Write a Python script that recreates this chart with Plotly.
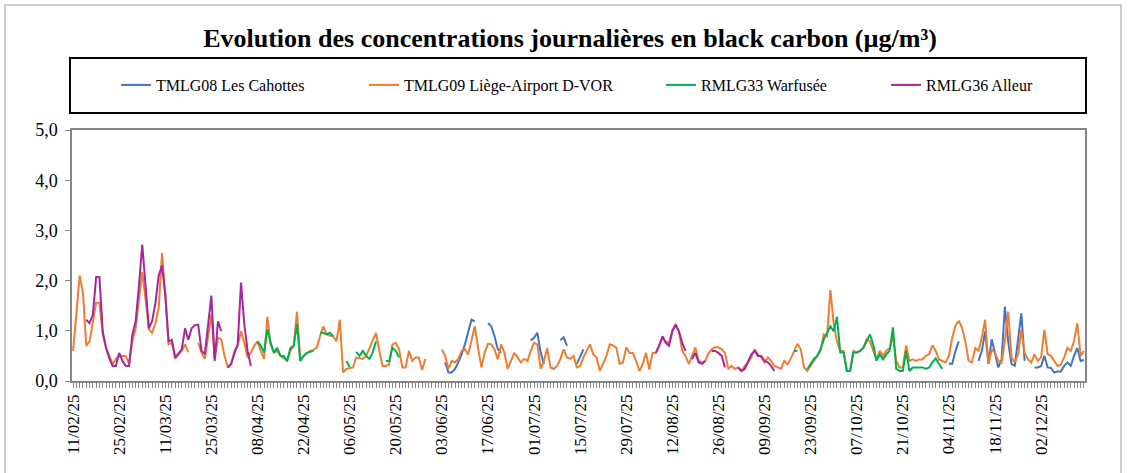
import plotly.graph_objects as go
import pandas as pd

# daily black carbon (µg/m³), each series as (first day, consecutive daily values)
dates = pd.date_range("2025-02-11", "2025-12-15", freq="D")

tmlg08 = [
    ("2025-06-04", [0.37, 0.17, 0.17, 0.24, 0.37, 0.53, 0.73, 0.99, 1.22, 1.19]),
    ("2025-06-17", [1.15, 1.09, 0.89, 0.63, 0.56]),
    ("2025-06-30", [0.81, 0.86, 0.96]),
    ("2025-07-03", [0.57, 0.34]),
    ("2025-07-09", [0.81, 0.87, 0.70]),
    ("2025-07-14", [0.34, 0.50, 0.63]),
    ("2025-11-04", [0.35, 0.34, 0.60, 0.79]),
    ("2025-11-13", [0.40, 0.60, 0.99, 0.34, 0.83, 0.57, 0.27, 0.43, 1.48, 0.79,
                    0.34, 0.30, 0.85, 1.35, 0.40]),
    ("2025-11-30", [0.27, 0.27, 0.30, 0.50, 0.27, 0.26, 0.17, 0.19, 0.19, 0.30,
                    0.37, 0.30, 0.50, 0.66, 0.40, 0.42]),
]

tmlg09 = [
    ("2025-02-11", [0.60, 1.35, 2.10, 1.75, 0.70, 0.79, 1.20, 1.56, 1.56, 0.93,
                    0.66, 0.48, 0.34, 0.44, 0.50, 0.50, 0.50, 0.34, 0.79, 1.05,
                    1.60, 2.17, 1.64, 1.03, 0.96, 1.15, 1.45, 2.55, 1.72, 0.73,
                    0.76, 0.44, 0.52, 0.60, 0.73, 0.57]),
    ("2025-03-21", [0.76, 0.57, 0.44, 0.85, 1.32, 0.44, 0.86, 0.83, 0.50, 0.27,
                    0.34, 0.60, 0.70, 0.99, 0.76, 0.47, 0.57, 0.70, 0.79, 0.60,
                    0.44, 1.28, 0.73, 0.56, 0.60, 0.50, 0.45, 0.40, 0.60, 0.70,
                    1.38, 0.40, 0.50, 0.56, 0.60, 0.62, 0.66, 0.89, 1.09, 0.93,
                    0.90, 0.89, 0.79, 1.22, 0.17, 0.24, 0.25, 0.27, 0.47, 0.45,
                    0.44, 0.50, 0.66, 0.80, 0.96, 0.60, 0.30, 0.30, 0.33, 0.73,
                    0.76, 0.63, 0.27, 0.27, 0.60, 0.40, 0.47, 0.47, 0.22, 0.44]),
    ("2025-06-03", [0.63, 0.50, 0.24, 0.40, 0.37, 0.44, 0.60, 0.63, 0.53, 0.80,
                    1.09, 0.66, 0.27, 0.56, 0.74, 0.73, 0.63, 0.43, 0.73, 0.56,
                    0.24, 0.40, 0.56, 0.47, 0.37, 0.44, 0.40, 0.60, 0.76, 0.73,
                    0.24, 0.40, 0.66, 0.27, 0.24, 0.30, 0.44, 0.63, 0.47, 0.44,
                    0.50, 0.27, 0.30, 0.47, 0.60, 0.73, 0.53, 0.47, 0.20, 0.35,
                    0.50, 0.73, 0.71, 0.66, 0.34, 0.37, 0.67, 0.56, 0.56, 0.40,
                    0.20, 0.33, 0.56, 0.23, 0.56, 0.56, 0.73, 0.86, 0.79, 0.76,
                    1.02, 1.12, 0.99, 0.60, 0.50, 0.34, 0.50, 0.67, 0.40, 0.37,
                    0.40, 0.55, 0.63, 0.67, 0.67, 0.63, 0.56, 0.24, 0.30, 0.24,
                    0.27, 0.20, 0.30, 0.37, 0.47, 0.63, 0.53, 0.47, 0.37, 0.47,
                    0.40, 0.30, 0.27, 0.24, 0.40, 0.33, 0.45, 0.60, 0.74, 0.63,
                    0.27, 0.20, 0.30, 0.40, 0.50, 0.60, 0.93, 0.89, 1.81, 1.15,
                    0.79, 0.60, 0.60, 0.20, 0.20, 0.60, 0.56, 0.60, 0.66, 0.83,
                    0.79, 0.60, 0.43, 0.60, 0.50, 0.60, 0.66, 0.89, 0.40, 0.27,
                    0.27, 0.71, 0.40, 0.43, 0.40, 0.43, 0.43, 0.50, 0.53, 0.71,
                    0.60, 0.43, 0.40, 0.37, 0.50, 0.86, 1.10, 1.20, 1.06, 0.79,
                    0.40, 0.37, 0.66, 0.60, 0.87, 1.22, 0.34, 0.63, 0.56, 0.40,
                    0.37, 0.80, 1.38, 0.47, 0.37, 0.53, 1.02, 0.56, 0.43, 0.37,
                    0.53, 0.40, 0.47, 1.02, 0.53, 0.50, 0.40, 0.30, 0.33, 0.47,
                    0.66, 0.60, 0.79, 1.15, 0.50, 0.60]),
]

rmlg33 = [
    ("2025-04-08", [0.79, 0.70, 0.57, 1.03, 0.76, 0.57, 0.66, 0.50, 0.50, 0.40,
                    0.66, 0.70, 1.13, 0.40, 0.50, 0.56, 0.58, 0.60]),
    ("2025-04-27", [0.96, 0.96, 0.93, 0.96, 0.89]),
    ("2025-05-05", [0.40, 0.28]),
    ("2025-05-08", [0.58, 0.50, 0.60, 0.50, 0.44, 0.57, 0.79]),
    ("2025-05-17", [0.40, 0.40, 0.66, 0.60, 0.47]),
    ("2025-09-18", [0.60, 0.60]),
    ("2025-09-22", [0.24, 0.34, 0.44, 0.50, 0.63, 0.83, 0.96, 1.09, 0.99, 1.28,
                    0.57, 0.57, 0.20, 0.20, 0.57, 0.57, 0.60, 0.66, 0.79, 0.93,
                    0.73, 0.40, 0.53, 0.43, 0.53, 0.60, 1.07, 0.24, 0.20, 0.20,
                    0.60, 0.20, 0.27, 0.27, 0.27, 0.27, 0.24, 0.27, 0.37, 0.45,
                    0.34, 0.24]),
]

rmlg36 = [
    ("2025-02-15", [1.22, 1.15, 1.32, 2.07, 2.07, 0.99, 0.66, 0.45, 0.30, 0.30,
                    0.56, 0.40, 0.30, 0.30, 0.93, 1.19, 1.90, 2.72, 1.91, 1.05,
                    1.19, 1.55, 2.10, 2.30, 1.72, 0.79, 0.82, 0.47, 0.55, 0.63,
                    1.05, 0.82, 1.05, 1.11, 1.12, 0.60, 0.54, 1.10, 1.70, 0.40,
                    1.19, 0.99]),
    ("2025-03-30", [0.27, 0.34, 0.55, 0.73, 1.96, 1.13, 0.60, 0.30]),
    ("2025-08-07", [0.56, 0.70, 0.89, 0.76, 0.70, 0.99, 1.12, 0.99, 0.76, 0.60]),
    ("2025-08-18", [0.44, 0.56, 0.37, 0.34, 0.40]),
    ("2025-08-24", [0.60, 0.60, 0.56, 0.50, 0.27]),
    ("2025-09-01", [0.27, 0.20, 0.24, 0.37, 0.53, 0.60, 0.50, 0.50, 0.40, 0.37,
                    0.30, 0.20]),
]

names = ["TMLG08 Les Cahottes", "TMLG09 Liège-Airport D-VOR", "RMLG33 Warfusée", "RMLG36 Alleur"]
colors = ["#4472C4", "#ED7D31", "#00B050", "#A5279F"]


def daily(segments):
    s = pd.Series(float("nan"), index=dates)
    for start, vals in segments:
        s[pd.date_range(start, periods=len(vals), freq="D")] = vals
    return s


W, H = 1128, 473
L, R, T, B = 72, 43, 130, 92
FONT = "Liberation Serif"


def px(x, y):
    # pixel position -> paper coords of the plot area
    return (x - L) / (W - L - R), (H - B - y) / (H - T - B)


fig = go.Figure()
legend_x = [116, 364, 661, 886]
for i, (name, segs) in enumerate(zip(names, [tmlg08, tmlg09, rmlg33, rmlg36])):
    s = daily(segs)
    fig.add_trace(go.Scatter(x=s.index, y=s.values, mode="lines", name=name,
                             line=dict(color=colors[i], width=2), showlegend=True,
                             legend="legend" if i == 0 else "legend%d" % (i + 1)))

legends = {}
for i, lx in enumerate(legend_x):
    key = "legend" if i == 0 else "legend%d" % (i + 1)
    legends[key] = dict(xref="container", yref="container", x=lx / W, y=1 - 85 / H,
                        xanchor="left", yanchor="middle", orientation="h",
                        bgcolor="rgba(0,0,0,0)", font=dict(family=FONT, size=16, color="black"))

ox0, oy0 = px(5, 5)
ox1, oy1 = px(1121, 490)
lx0, ly0 = px(70, 58)
lx1, ly1 = px(1086, 113)
fig.update_layout(
    width=W, height=H,
    margin=dict(l=L, r=R, t=T, b=B),
    paper_bgcolor="white", plot_bgcolor="white",
    separators=", ",
    showlegend=True,
    font=dict(family=FONT, size=16, color="black"),
    title=dict(text="Evolution des concentrations journalières en black carbon (µg/m³)",
               font=dict(family=FONT, size=26, color="black", weight="bold"),
               x=570 / W, xanchor="center", xref="container",
               y=1 - 38 / H, yanchor="middle", yref="container"),
    shapes=[
        dict(type="rect", xref="paper", yref="paper", x0=ox0, y0=oy1, x1=ox1, y1=oy0,
             line=dict(color="#BFBFBF", width=1.5), layer="below"),
        dict(type="rect", xref="paper", yref="paper", x0=lx0, y0=ly1, x1=lx1, y1=ly0,
             line=dict(color="black", width=2)),
    ],
    **legends,
)

fig.update_xaxes(
    type="date",
    range=["2025-02-10 16:00", "2025-12-15 08:00"],
    tick0="2025-02-11", dtick=14 * 86400000, tickformat="%d/%m/%y", tickangle=-90,
    ticks="outside", ticklen=5, tickcolor="#868686",
    minor=dict(dtick=86400000, ticks="outside", ticklen=5, tickcolor="#868686"),
    showline=True, linecolor="#868686", linewidth=1.5, mirror=True,
    showgrid=False, tickfont=dict(family=FONT, size=17, color="black"),
)
fig.update_yaxes(
    range=[0, 5], dtick=1, tickformat=".1f",
    ticks="outside", ticklen=5, tickcolor="#868686", ticklabelstandoff=4,
    showline=True, linecolor="#868686", linewidth=1.5, mirror=True,
    showgrid=False, zeroline=False, tickfont=dict(family=FONT, size=18, color="black"),
)

# the page keeps no body margin so the figure sits at the window's corner
fig.write_html("out.html", config={"displayModeBar": False},
               post_script="document.body.style.margin='0';document.body.style.overflow='hidden';")
